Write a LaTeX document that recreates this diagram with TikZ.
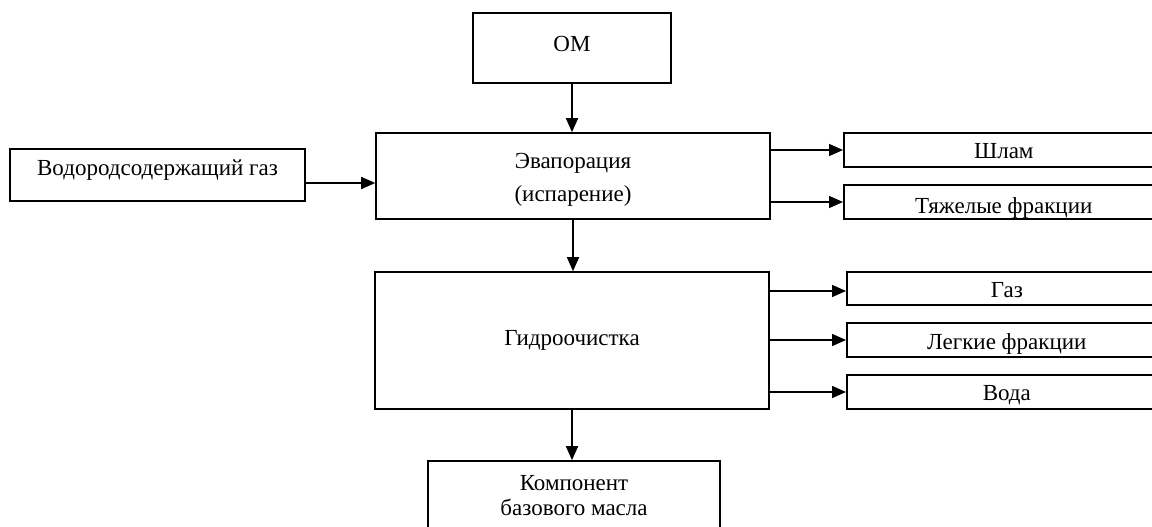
\documentclass[tikz,border=0pt]{standalone}
\usepackage{fontspec}
\setmainfont{Liberation Serif}
\usetikzlibrary{arrows.meta}
\tikzset{
  box/.style={draw, line width=1.6pt, inner sep=0pt, align=center,
    font=\fontsize{23}{33}\selectfont},
  sidebox/.style={box, minimum width=320pt, anchor=west},
  arr/.style={line width=1.6pt, -{Triangle[length=14pt,width=12pt]}},
}
\begin{document}
\begin{tikzpicture}[x=1pt,y=-1pt]
\useasboundingbox (0,0) rectangle (1152,527);
\clip (0,0) rectangle (1152,527);
% main column
\node[box, minimum width=198pt, text height=39pt, text depth=31pt] (om) at (572,48) {ОМ};
\node[box, minimum width=394pt, text height=68.5pt, text depth=17.5pt] (evap) at (573,176) {Эвапорация\\(испарение)};
\node[box, minimum width=295pt, text height=26pt, text depth=26pt] (vod) at (157.5,175) {Водородсодержащий газ};
\node[box, minimum width=394pt, text height=73pt, text depth=64pt] (gidro) at (572,340.5) {Гидроочистка};
\node[box, minimum width=292pt, text height=54pt, text depth=30pt,
      font=\fontsize{23}{25}\selectfont] (komp) at (574,503) {Компонент\\базового масла};
% side outputs
\node[sidebox, text height=25pt, text depth=9pt] (shlam) at (843,150) {Шлам};
\node[sidebox, text height=28pt, text depth=6pt] (tyazh) at (843,202) {Тяжелые фракции};
\node[sidebox, text height=25pt, text depth=8pt] (gaz) at (846,288.5) {Газ};
\node[sidebox, text height=26pt, text depth=8pt] (legk) at (846,340) {Легкие фракции};
\node[sidebox, text height=25pt, text depth=9pt] (voda) at (846,392) {Вода};
% connectors
\draw[arr] (om.south) -- (om.south |- evap.north);
\draw[arr] (evap.south) -- (evap.south |- gidro.north);
\draw[arr] (gidro.south) -- (gidro.south |- komp.north);
\draw[arr] ([yshift=-8pt]vod.east) -- ([yshift=-8pt]vod.east -| evap.west);
\draw[arr] (evap.east |- shlam.west) -- (shlam.west);
\draw[arr] (evap.east |- tyazh.west) -- (tyazh.west);
\draw[arr] ([yshift=-2.5pt]gidro.east |- gaz.west) -- ([yshift=-2.5pt]gaz.west);
\draw[arr] (gidro.east |- legk.west) -- (legk.west);
\draw[arr] (gidro.east |- voda.west) -- (voda.west);
\end{tikzpicture}
\end{document}
